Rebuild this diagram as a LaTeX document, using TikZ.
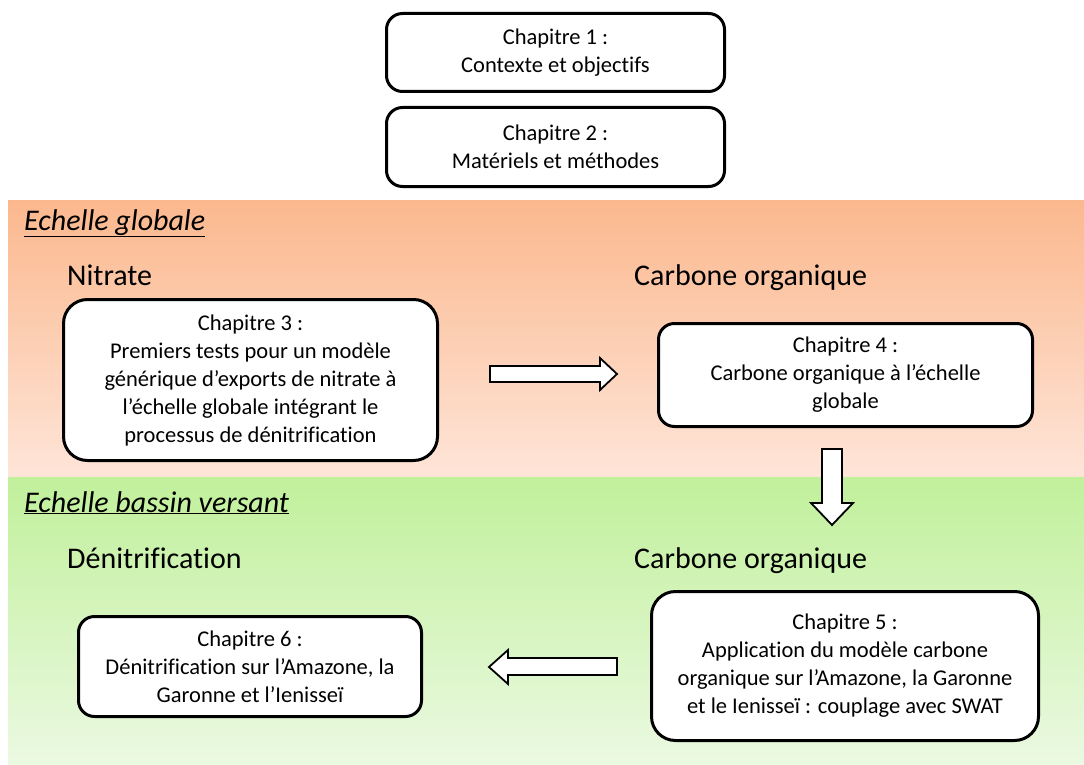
\documentclass[tikz,border=0pt]{standalone}
\usepackage{fontspec}
\setmainfont[Ligatures=NoCommon]{Carlito}
\definecolor{orTop}{RGB}{251,184,142}
\definecolor{orBot}{RGB}{254,229,216}
\definecolor{grTop}{RGB}{193,240,155}
\definecolor{grBot}{RGB}{235,249,226}
\begin{document}
\begin{tikzpicture}[x=1pt,y=-1pt,
  chap/.style={draw=black, line width=3pt, rounded corners=16pt, fill=white,
    align=center, font=\fontsize{22.5}{28}\selectfont, inner sep=0pt},
  bigchap/.style={chap, rounded corners=24pt},
  heading/.style={anchor=base west, inner sep=0pt, font=\fontsize{30}{34}\selectfont},
  zonetitle/.style={anchor=base west, inner sep=0pt, font=\fontsize{30}{34}\selectfont\itshape},
  blk/.style={draw=black, line width=1.8pt, fill=white, line join=miter}]
\useasboundingbox (0,0) rectangle (1084,765);
% bands
\shade[top color=orTop, bottom color=orBot] (8,200) rectangle (1084,477);
\shade[top color=grTop, bottom color=grBot] (8,477) rectangle (1084,765);
% top chapters
\node[chap, minimum width=338pt, minimum height=78pt] (c1) at (555.5,52.5)
  {Chapitre 1 :\\Contexte et objectifs};
\node[chap, minimum width=338pt, minimum height=79pt] (c2) at (555.5,147)
  {Chapitre 2 :\\Matériels et méthodes};
% global scale
\node[zonetitle] (zg) at (24,230) {\underline{Echelle globale}};
\node[heading] (hn) at (67,285) {Nitrate};
\node[heading] (hc1) at (634,285) {Carbone organique};
\node[bigchap, minimum width=374pt, minimum height=161pt] (c3) at (250.5,380)
  {Chapitre 3 :\\Premiers tests pour un modèle\\générique d’exports de nitrate à\\l’échelle globale intégrant le\\processus de dénitrification};
\node[chap, minimum width=374pt, minimum height=103pt] (c4) at (845.5,375)
  {Chapitre 4 :\\Carbone organique à l’échelle\\globale};
% basin scale
\node[zonetitle] (zb) at (24,512) {\underline{Echelle bassin versant}};
\node[heading] (hd) at (67,568) {Dénitrification};
\node[heading] (hc2) at (634,568) {Carbone organique};
\node[bigchap, minimum width=387pt, minimum height=149pt] (c5) at (845,666)
  {Chapitre 5 :\\Application du modèle carbone\\organique sur l’Amazone, la Garonne\\et le Ienisseï : couplage avec SWAT};
\node[chap, minimum width=343pt, minimum height=100pt] (c6) at (250,666.5)
  {Chapitre 6 :\\Dénitrification sur l’Amazone, la\\Garonne et l’Ienisseï};
% block arrows
\draw[blk] (490,366) -- (600,366) -- (600,358) -- (617,374) -- (600,390)
  -- (600,382) -- (490,382) -- cycle;
\draw[blk] (822,449) -- (842,449) -- (842,503) -- (853,503) -- (832,525)
  -- (811,503) -- (822,503) -- cycle;
\draw[blk] (617,658) -- (508,658) -- (508,650) -- (489,667) -- (508,684)
  -- (508,675) -- (617,675) -- cycle;
\end{tikzpicture}
\end{document}
